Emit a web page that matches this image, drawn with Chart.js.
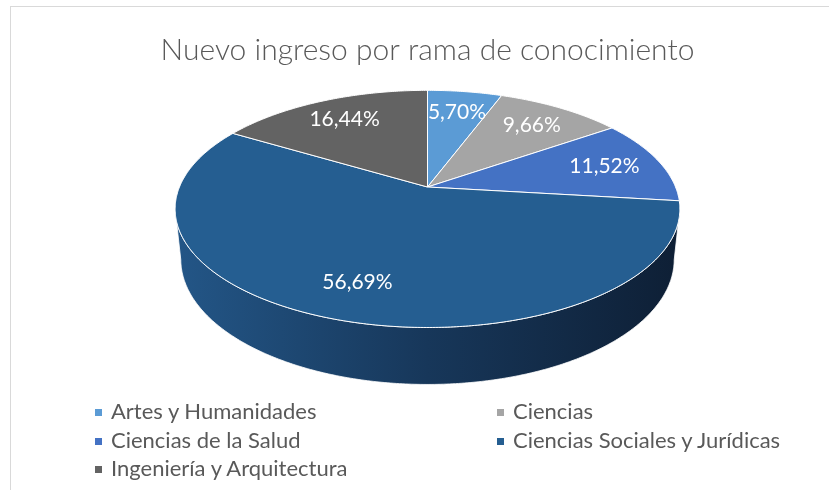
<!DOCTYPE html>
<html lang="es">
<head>
<meta charset="utf-8">
<title>Nuevo ingreso por rama de conocimiento</title>
<script src="https://cdn.jsdelivr.net/npm/chart.js@4.4.1/dist/chart.umd.min.js"></script>
<style>
  html, body { margin: 0; padding: 0; background: #fff; overflow: hidden; }
  #wrap { position: relative; width: 829px; height: 490px; }
  #frame { position: absolute; left: 10px; top: 6px; width: 900px; height: 600px;
           border-top: 1px solid #d9d9d9; border-left: 1px solid #d9d9d9; }
  #chart { position: absolute; left: 0; top: 0; }
  #legend { position: absolute; left: 0; top: 0; font-family: Lato, "Open Sans", sans-serif;
            font-size: 22px; color: #595959; }
  .item { position: absolute; white-space: nowrap; line-height: 24px; height: 24px; }
  .item i { display: inline-block; width: 7px; height: 7px; margin-right: 9px; vertical-align: middle;
            position: relative; top: -1px; }
</style>
</head>
<body>
<div id="wrap">
  <div id="frame"></div>
  <canvas id="chart" width="829" height="490"></canvas>
  <div id="legend"></div>
</div>
<script>
// ---- 데이터 ----
const TITLE = 'Nuevo ingreso por rama de conocimiento';
const labels = ['Artes y Humanidades', 'Ciencias', 'Ciencias de la Salud', 'Ciencias Sociales y Jurídicas', 'Ingeniería y Arquitectura'];
const shares = [5.70, 9.66, 11.52, 56.69, 16.44];   // %
const topColors = ['#5B9BD5', '#A5A5A5', '#4472C4', '#255E91', '#636363'];
const sideColors = [
  ['#4f8cc4', '#3b6f9f', '#2c5378'],
  ['#959595', '#7a7a7a', '#5c5c5c'],
  ['#3c66b0', '#2f4f8a', '#223a66'],
  ['#235687', '#17375a', '#0e1f35'],
  ['#5a5a5a', '#454545', '#303030']
];

// ---- 3D 보기 설정 ----
// spread: 타원 가로 반폭 / 원 반지름
const VIEW = { tilt: 27.5, dist: 4.8, depth: 0.231, spread: 2.284, labelR: 0.76 };

const fmtPct = v => v.toFixed(2).replace('.', ',') + '%';

// theta: 12시 방향에서 시계방향, r: 반지름(0~1), y: 0 = 윗면, -depth = 바닥
function project(g, theta, r, y) {
  const X = Math.sin(theta) * r, Z = Math.cos(theta) * r;
  const Yp = y * g.c + Z * g.s;
  const Zp = -y * g.s + Z * g.c;
  return [g.cx + g.F * X / (g.d + Zp), g.cy - g.F * Yp / (g.d + Zp)];
}

function geom(chart) {
  const arc = chart.getDatasetMeta(0).data[0];
  const phi = VIEW.tilt * Math.PI / 180;
  const s = Math.sin(phi), c = Math.cos(phi), d = VIEW.dist;
  const p = c / d;
  const half = arc.outerRadius * VIEW.spread;
  const A = half * Math.sqrt(1 - p * p);
  return { cx: arc.x, cy: arc.y, s, c, d, p, F: A * d, half };
}

function rimPath(ctx, g, a0, a1, r, y, first) {
  const n = Math.max(2, Math.ceil(Math.abs(a1 - a0) / 0.01));
  for (let k = 0; k <= n; k++) {
    const t = a0 + (a1 - a0) * k / n;
    const [x, yy] = project(g, t, r, y);
    if (k === 0 && first) ctx.moveTo(x, yy); else ctx.lineTo(x, yy);
  }
}

const pie3d = {
  id: 'pie3d',
  beforeDatasetsDraw(chart) {
    const ctx = chart.ctx;
    const meta = chart.getDatasetMeta(0);
    const g = geom(chart);
    const edge = Math.acos(-g.p); // 옆면이 보이기 시작하는 각도
    const bottom = -VIEW.depth;

    ctx.save();
    // 옆면
    meta.data.forEach((arc, i) => {
      const a0 = arc.startAngle + Math.PI / 2, a1 = arc.endAngle + Math.PI / 2;
      const lo = Math.max(a0, edge), hi = Math.min(a1, 2 * Math.PI - edge);
      if (hi <= lo) return;
      ctx.beginPath();
      rimPath(ctx, g, lo, hi, 1, 0, true);
      rimPath(ctx, g, hi, lo, 1, bottom, false);
      ctx.closePath();
      const grad = ctx.createLinearGradient(g.cx - g.half, 0, g.cx + g.half, 0);
      grad.addColorStop(0, sideColors[i][0]);
      grad.addColorStop(0.5, sideColors[i][1]);
      grad.addColorStop(1, sideColors[i][2]);
      ctx.fillStyle = grad;
      ctx.fill();
      ctx.strokeStyle = 'rgba(255,255,255,0.8)';
      ctx.lineWidth = 1;
      ctx.stroke();
    });
    // 윗면
    meta.data.forEach((arc, i) => {
      const a0 = arc.startAngle + Math.PI / 2, a1 = arc.endAngle + Math.PI / 2;
      ctx.beginPath();
      ctx.moveTo(g.cx, g.cy);
      rimPath(ctx, g, a0, a1, 1, 0, false);
      ctx.closePath();
      ctx.fillStyle = arc.options.backgroundColor;
      ctx.fill();
      ctx.strokeStyle = arc.options.borderColor;
      ctx.lineWidth = arc.options.borderWidth;
      ctx.lineJoin = 'round';
      ctx.stroke();
    });
    ctx.restore();
    return false; // 기본 원형 그리기는 생략
  },
  afterDraw(chart) {
    // 데이터 레이블
    const ctx = chart.ctx;
    const meta = chart.getDatasetMeta(0);
    const g = geom(chart);
    ctx.save();
    ctx.font = '21px Lato, "Open Sans", sans-serif';
    ctx.fillStyle = '#ffffff';
    ctx.textAlign = 'center';
    ctx.textBaseline = 'middle';
    meta.data.forEach((arc, i) => {
      const mid = (arc.startAngle + arc.endAngle) / 2 + Math.PI / 2;
      const [x, y] = project(g, mid, VIEW.labelR, 0);
      ctx.fillText(fmtPct(shares[i]), x, y);
    });
    ctx.restore();
  }
};

const chart = new Chart(document.getElementById('chart'), {
  type: 'pie',
  data: {
    labels,
    datasets: [{ data: shares, backgroundColor: topColors, borderColor: '#ffffff', borderWidth: 1 }]
  },
  options: {
    responsive: false,
    animation: false,
    events: [],
    layout: { padding: { top: 0, bottom: 192, left: 26, right: 0 } },
    plugins: {
      legend: { display: false },
      tooltip: { enabled: false },
      title: {
        display: true,
        text: TITLE,
        color: '#595959',
        font: { family: 'Lato', size: 30, weight: '300', lineHeight: 1.2 },
        padding: { top: 32, bottom: 8 }
      }
    }
  },
  plugins: [pie3d]
});

// ---- 범례 (2열) ----
const legendPos = [[95, 399], [497, 399], [95, 428], [497, 428], [95, 456]];
const legend = document.getElementById('legend');
labels.forEach((name, i) => {
  const d = document.createElement('div');
  d.className = 'item';
  d.style.left = legendPos[i][0] + 'px';
  d.style.top = legendPos[i][1] + 'px';
  d.innerHTML = '<i style="background:' + topColors[i] + '"></i>' + name;
  legend.appendChild(d);
});
</script>
</body>
</html>
